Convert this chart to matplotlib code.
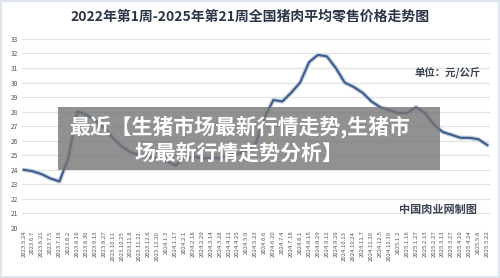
import matplotlib.pyplot as plt
from matplotlib.patches import Rectangle

plt.rcParams['font.family'] = ['Noto Sans CJK SC', 'DejaVu Sans']

# biweekly dates shown on the x axis
dates = ['2023.5.24', '2023.6.7', '2023.6.21', '2023.7.5', '2023.7.19', '2023.8.2',
         '2023.8.16', '2023.8.30', '2023.9.13', '2023.9.27', '2023.10.11', '2023.10.25',
         '2023.11.8', '2023.11.22', '2023.12.6', '2023.12.20', '2024.1.3', '2024.1.17',
         '2024.2.1', '2024.2.18', '2024.2.29', '2024.3.14', '2024.3.28', '2024.4.11',
         '2024.4.25', '2024.5.9', '2024.5.23', '2024.6.6', '2024.6.20', '2024.7.4',
         '2024.7.18', '2024.8.1', '2024.8.15', '2024.8.29', '2024.9.12', '2024.9.26',
         '2024.10.13', '2024.10.24', '2024.11.7', '2024.11.20', '2024.12.5', '2024.12.19',
         '2025.1.2', '2025.1.16', '2025.1.27', '2025.2.13', '2025.2.27', '2025.3.13',
         '2025.3.27', '2025.4.10', '2025.4.24', '2025.5.8', '2025.5.22']

# retail pork price, yuan/kg
prices = [24.0, 23.9, 23.7, 23.4, 23.2, 24.8, 28.0, 27.8, 27.4, 26.9,
          26.2, 25.6, 25.2, 25.0, 24.9, 24.8, 24.6, 24.3, 24.8, 24.9,
          24.8, 24.8, 24.8, 25.0, 25.1, 25.3, 25.8, 27.6, 28.8, 28.7,
          29.3, 30.0, 31.4, 31.9, 31.8, 31.0, 30.0, 29.7, 29.3, 28.7,
          28.3, 28.1, 27.9, 27.9, 28.3, 27.9, 27.1, 26.6, 26.4, 26.2,
          26.2, 26.1, 25.7]

yticks = list(range(20, 34))

fig = plt.figure(figsize=(5, 2.78), dpi=100)
ax = fig.add_axes([0.044, 0.18, 0.936, 0.68])

x = list(range(len(dates)))
ax.plot(x, prices, color='#c5d0df', lw=3.2, zorder=2, solid_capstyle='round')
ax.plot(x, prices, color='#3d5c8c', lw=1.5, zorder=3)

ax.set_ylim(20, 33)
ax.set_xlim(-0.2, 52.3)
ax.set_yticks(yticks)
ax.set_xticks(x)
ax.set_xticklabels(dates, rotation=90, fontsize=4.3, color='#555555')
ax.tick_params(axis='y', labelsize=4.8, colors='#555555', length=0, pad=3)
ax.tick_params(axis='x', length=0, pad=2)
ax.grid(axis='y', color='#e3e3e3', lw=0.9)
for s in ax.spines.values():
    s.set_visible(False)

fig.text(0.5, 0.94, '2022年第1周-2025年第21周全国猪肉平均零售价格走势图',
         ha='center', va='center', fontsize=10, fontweight='bold', color='#2a3647')
fig.text(0.896, 0.737, '单位：元/公斤', ha='center', va='center',
         fontsize=7.5, fontweight='bold', color='#3a4150')
fig.text(0.876, 0.245, '中国肉业网制图', ha='center', va='center',
         fontsize=8, fontweight='bold', color='#3a4150')

# grey caption banner
fig.patches.append(Rectangle((0.116, 0.388), 0.764, 0.227, transform=fig.transFigure,
                             facecolor='#767676', alpha=0.8, edgecolor='none', zorder=5))
fig.text(0.48, 0.545, '最近【生猪市场最新行情走势,生猪市', ha='center', va='center',
         fontsize=15, fontweight='bold', color='white', zorder=6)
fig.text(0.478, 0.45, '场最新行情走势分析】', ha='center', va='center',
         fontsize=15, fontweight='bold', color='white', zorder=6)

# light frame round the picture
fig.patches.append(Rectangle((0.002, 0.003), 0.996, 0.994, transform=fig.transFigure,
                             facecolor='none', edgecolor='#dfe5ec', lw=1.5, zorder=7))

fig.savefig('out.png', dpi=100)
